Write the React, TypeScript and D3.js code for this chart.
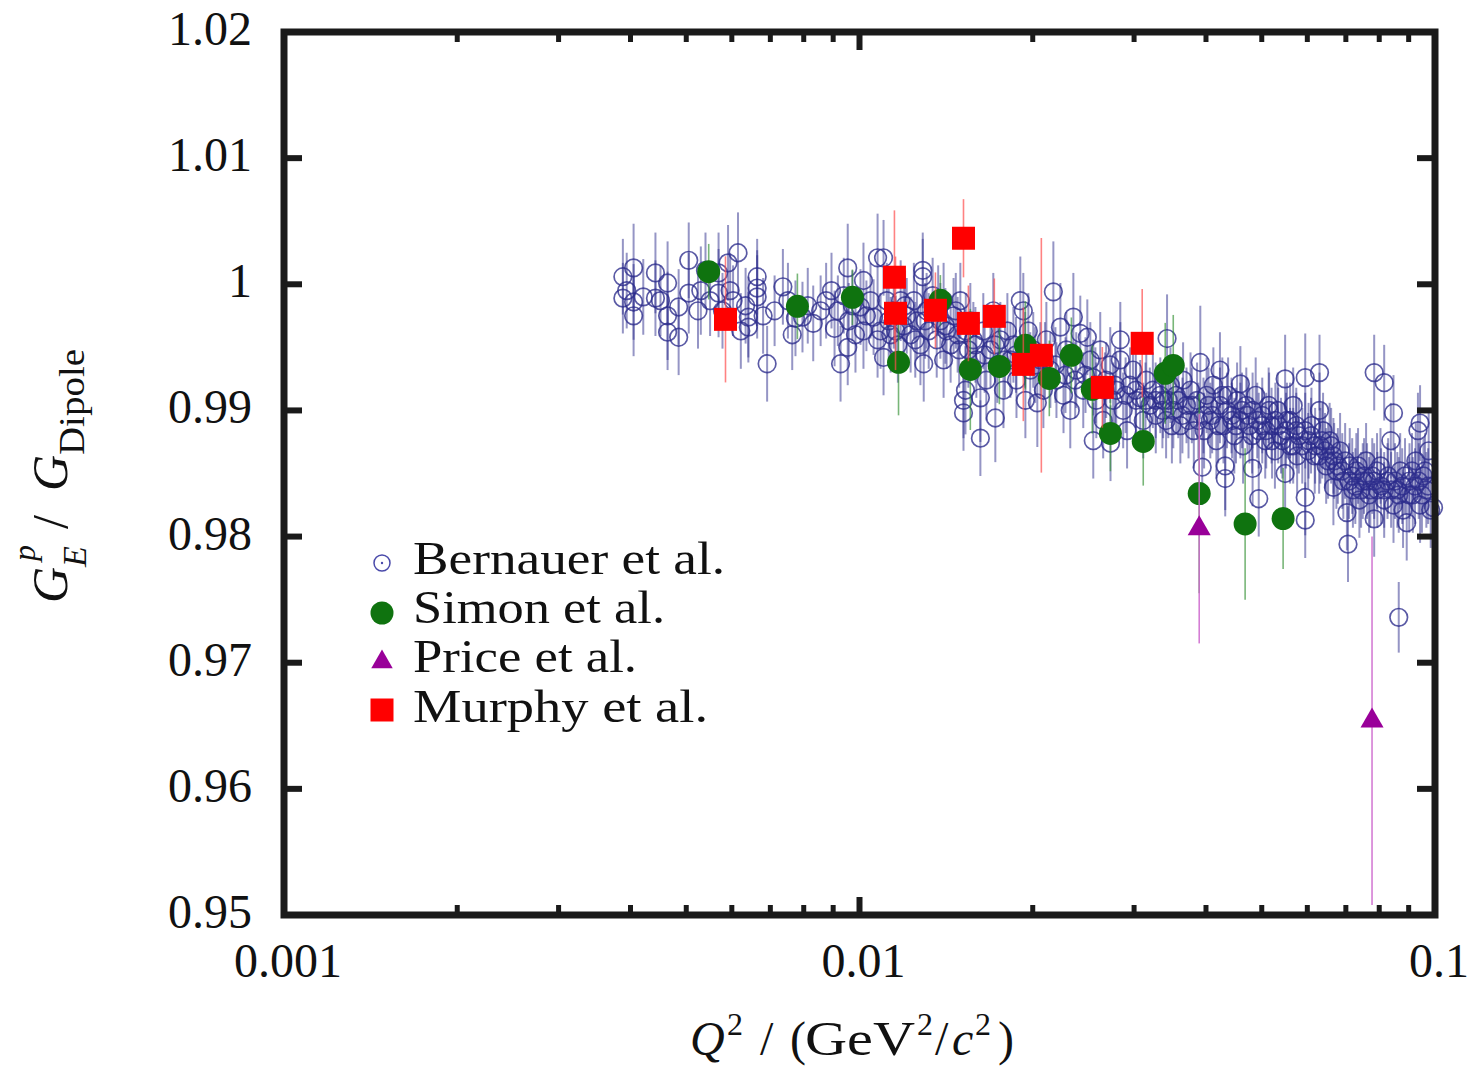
import React from 'react';
import * as d3 from 'd3';

const yTickValues = [0.95, 0.96, 0.97, 0.98, 0.99, 1.0, 1.01, 1.02];
const yTickLabels = ['0.95', '0.96', '0.97', '0.98', '0.99', '1', '1.01', '1.02'];
const xTickValues = [0.001, 0.01, 0.1];
const xTickLabels = ['0.001', '0.01', '0.1'];
const seriesNames = ['Bernauer et al.', 'Simon et al.', 'Price et al.', 'Murphy et al.'];

// [Q^2, G_E/G_Dipole, error]
const bernauer: [number, number, number][] = [
  [0.00388,1.0006,0.0030],[0.00388,0.9989,0.0028],[0.00394,0.9995,0.0030],[0.00405,1.0013,0.0035],[0.00405,0.9986,0.0030],[0.00405,0.9975,0.0032],[0.00421,0.9990,0.0030],[0.00442,1.0009,0.0032],[0.00442,0.9989,0.0030],[0.00451,0.9987,0.0028],[0.00464,1.0001,0.0033],[0.00464,0.9975,0.0035],[0.00464,0.9962,0.0030],[0.00485,0.9982,0.0030],[0.00485,0.9958,0.0030],[0.00505,1.0019,0.0030],[0.00505,0.9993,0.0032],[0.00524,0.9979,0.0030],[0.00530,0.9995,0.0035],
  [0.00540,1.0011,0.0030],[0.00550,0.9987,0.0028],[0.00569,1.0009,0.0032],[0.00569,0.9993,0.0035],[0.00578,0.9979,0.0030],[0.00591,1.0017,0.0030],[0.00596,0.9995,0.0030],[0.00603,0.9987,0.0028],[0.00615,1.0025,0.0032],[0.00622,0.9963,0.0030],[0.00634,0.9983,0.0030],[0.00641,0.9974,0.0032],[0.00641,0.9966,0.0028],[0.00664,1.0006,0.0030],[0.00664,0.9997,0.0030],[0.00664,0.9990,0.0033],[0.00680,0.9975,0.0030],[0.00691,0.9937,0.0030],[0.00712,0.9979,0.0028],[0.00736,0.9998,0.0030],[0.00751,0.9987,0.0030],[0.00764,0.9960,0.0028],[0.00774,0.9973,0.0030],
  [0.00796,0.9974,0.0028],[0.00813,0.9983,0.0030],[0.00831,0.9969,0.0030],[0.00856,0.9979,0.0028],[0.00875,0.9987,0.0030],[0.00894,0.9995,0.0030],[0.00905,0.9965,0.0030],[0.00917,0.9979,0.0028],[0.00927,0.9937,0.0030],[0.00939,0.9991,0.0030],[0.00954,1.0013,0.0035],[0.00958,0.9971,0.0030],[0.00954,0.9950,0.0030],[0.00972,0.9983,0.0028],[0.00984,0.9960,0.0030],[0.01004,0.9982,0.0030],[0.01016,0.9963,0.0030],[0.01016,1.0003,0.0030],[0.01028,0.9975,0.0028],[0.01045,0.9987,0.0030],[0.01058,0.9974,0.0030],[0.01075,1.0021,0.0035],[0.01075,0.9956,0.0030],[0.01088,0.9963,0.0030],[0.01101,0.9942,0.0030],
  [0.01101,1.0021,0.0030],[0.01115,0.9987,0.0030],[0.01124,0.9971,0.0030],[0.01133,0.9960,0.0030],[0.01147,0.9979,0.0030],[0.01156,0.9963,0.0028],[0.01166,0.9952,0.0030],[0.01179,0.9987,0.0032],[0.01193,0.9967,0.0030],[0.01200,0.9983,0.0028],[0.01208,0.9975,0.0030],[0.01227,0.9960,0.0030],[0.01243,0.9987,0.0030],[0.01250,0.9956,0.0030],[0.01258,0.9971,0.0030],[0.01276,0.9952,0.0032],[0.01288,1.0011,0.0030],[0.01288,1.0006,0.0030],[0.01293,0.9937,0.0030],[0.01300,0.9971,0.0030],[0.01308,0.9979,0.0030],[0.01319,0.9963,0.0030],[0.01340,0.9991,0.0030],[0.01362,0.9956,0.0030],[0.01370,0.9987,0.0028],[0.01382,0.9971,0.0030],[0.01400,0.9987,0.0030],[0.01400,0.9940,0.0030],[0.01410,0.9967,0.0030],[0.01417,0.9963,0.0030],[0.01440,0.9952,0.0030],[0.01457,0.9975,0.0030],[0.01470,0.9979,0.0030],[0.01481,0.9960,0.0030],[0.01490,0.9948,0.0030],[0.01497,0.9987,0.0030],[0.01516,0.9908,0.0030],[0.01516,0.9898,0.0030],[0.01528,0.9916,0.0035],[0.01546,0.9948,0.0030],
  [0.01530,0.9963,0.0030],[0.01558,0.9971,0.0030],[0.01577,0.9956,0.0030],[0.01590,0.9952,0.0030],[0.01596,0.9940,0.0030],[0.01622,0.9910,0.0035],[0.01622,0.9878,0.0030],[0.01641,0.9963,0.0030],[0.01650,0.9944,0.0030],[0.01661,0.9924,0.0032],[0.01689,0.9948,0.0030],[0.01708,0.9979,0.0030],[0.01720,0.9952,0.0030],[0.01722,0.9894,0.0035],[0.01736,0.9936,0.0030],[0.01757,0.9956,0.0030],[0.01779,0.9916,0.0030],[0.01790,0.9940,0.0030],[0.01807,0.9963,0.0030],[0.01829,0.9940,0.0030],[0.01851,0.9952,0.0030],[0.01870,0.9944,0.0030],[0.01874,0.9924,0.0030],[0.01903,0.9987,0.0035],[0.01926,0.9979,0.0030],[0.01940,0.9948,0.0030],[0.01942,0.9908,0.0030],[0.01965,0.9963,0.0030],[0.01980,0.9932,0.0030],[0.02004,0.9948,0.0030],[0.02020,0.9936,0.0030],[0.02037,0.9906,0.0035],[0.02062,0.9940,0.0030],[0.02087,0.9916,0.0030],[0.02100,0.9940,0.0030],[0.02112,0.9956,0.0030],[0.02146,0.9932,0.0030],[0.02172,0.9994,0.0040],[0.02190,0.9936,0.0030],[0.02199,0.9924,0.0030],
  [0.02234,0.9966,0.0035],[0.02262,0.9912,0.0030],[0.02280,0.9928,0.0030],[0.02288,0.9948,0.0030],[0.02324,0.9900,0.0030],[0.02353,0.9974,0.0035],[0.02370,0.9924,0.0030],[0.02380,0.9932,0.0030],[0.02419,0.9961,0.0030],[0.02448,0.9916,0.0030],[0.02470,0.9928,0.0030],[0.02488,0.9958,0.0030],[0.02518,0.9940,0.0030],[0.02548,0.9926,0.0030],[0.02548,0.9876,0.0030],[0.02570,0.9920,0.0030],[0.02579,0.9908,0.0030],[0.02620,0.9948,0.0030],[0.02651,0.9892,0.0030],[0.02670,0.9916,0.0030],[0.02683,0.9924,0.0030],[0.02727,0.9936,0.0030],[0.02730,0.9874,0.0030],[0.02759,0.9908,0.0030],[0.02780,0.9920,0.0030],[0.02793,0.9916,0.0030],[0.02839,0.9956,0.0030],[0.02839,0.9940,0.0030],[0.02872,0.9900,0.0030],[0.02900,0.9912,0.0030],[0.02917,0.9884,0.0030],[0.02952,0.9920,0.0030],[0.02987,0.9932,0.0030],[0.03020,0.9916,0.0030],[0.03024,0.9908,0.0030],[0.03075,0.9910,0.0030],[0.03112,0.9892,0.0030],[0.03140,0.9908,0.0030],[0.03150,0.9924,0.0030],[0.03195,0.9904,0.0030],[0.03234,0.9916,0.0030],[0.03270,0.9908,0.0030],[0.03272,0.9896,0.0030],[0.03332,0.9912,0.0030],[0.03423,0.9957,0.0035],
  [0.0336,0.9900,0.003],[0.0337,0.9908,0.003],[0.0341,0.9892,0.003],[0.0344,0.9908,0.003],[0.0347,0.9920,0.003],[0.0349,0.9888,0.003],[0.0351,0.9900,0.003],[0.0355,0.9912,0.003],[0.0358,0.9908,0.003],[0.0361,0.9888,0.003],[0.0364,0.9896,0.003],[0.0365,0.9924,0.003],[0.0370,0.9904,0.003],[0.0373,0.9892,0.003],[0.0376,0.9916,0.003],[0.0378,0.9904,0.003],[0.0381,0.9884,0.003],[0.0386,0.9908,0.003],[0.0388,0.9892,0.003],[0.0391,0.9938,0.0045],[0.0394,0.9855,0.003],[0.0396,0.9896,0.003],[0.0397,0.9884,0.003],[0.0401,0.9912,0.003],[0.0404,0.9904,0.003],[0.0407,0.9892,0.003],[0.0410,0.9896,0.003],[0.0412,0.9920,0.003],[0.0417,0.9876,0.003],[0.0420,0.9888,0.003],[0.0423,0.9932,0.003],[0.0423,0.9904,0.003],[0.0427,0.9912,0.003],[0.0429,0.9888,0.003],[0.0432,0.9856,0.0035],[0.0432,0.9846,0.003],[0.0435,0.9900,0.003],[0.0437,0.9912,0.003],[0.0443,0.9896,0.003],[0.0444,0.9892,0.003],[0.0448,0.9880,0.003],[0.0451,0.9888,0.003],[0.0453,0.9908,0.003],[0.0459,0.9921,0.003],[0.0459,0.9892,0.003],[0.0462,0.9900,0.003],[0.0464,0.9872,0.003],[0.0470,0.9904,0.003],[0.0472,0.9896,0.003],[0.0476,0.9888,0.003],[0.0481,0.9880,0.003],[0.0482,0.9854,0.003],[0.0482,0.9900,0.003],[0.0488,0.9912,0.003],[0.0491,0.9892,0.003],[0.0494,0.9830,0.003],[0.0494,0.9884,0.003],
  [0.0501,0.9896,0.003],[0.0501,0.9888,0.003],[0.0507,0.9876,0.003],[0.0509,0.9884,0.003],[0.0514,0.9904,0.003],[0.0515,0.9900,0.003],[0.0520,0.9888,0.003],[0.0521,0.9876,0.003],[0.0527,0.9868,0.003],[0.0528,0.9892,0.003],[0.0533,0.9900,0.003],[0.0534,0.9888,0.003],[0.0540,0.9880,0.003],[0.0543,0.9876,0.003],[0.0549,0.9925,0.0035],[0.0549,0.9850,0.003],[0.0551,0.9884,0.003],[0.0553,0.9892,0.003],[0.0560,0.9872,0.003],[0.0560,0.9892,0.003],[0.0567,0.9904,0.003],[0.0567,0.9872,0.003],[0.0574,0.9884,0.003],[0.0574,0.9888,0.003],[0.0576,0.9864,0.003],[0.0580,0.9880,0.003],[0.0588,0.9872,0.003],[0.0595,0.9926,0.0035],[0.0595,0.9831,0.003],[0.0595,0.9813,0.003],[0.0595,0.9884,0.003],[0.0602,0.9868,0.003],[0.0603,0.9876,0.003],[0.0609,0.9880,0.003],[0.0610,0.9888,0.003],[0.0618,0.9864,0.003],[0.0619,0.9872,0.003],[0.0629,0.9864,0.003],[0.0630,0.9930,0.003],[0.0630,0.9900,0.003],[0.0632,0.9872,0.003],[0.0637,0.9876,0.003],[0.0639,0.9884,0.003],[0.0644,0.9868,0.003],[0.0647,0.9856,0.003],[0.0652,0.9860,0.003],[0.0656,0.9876,0.003],[0.0660,0.9872,0.003],[0.0666,0.9839,0.003],[0.0666,0.9864,0.003],[0.0668,0.9860,0.003],[0.0674,0.9852,0.003],[0.0678,0.9856,0.003],
  [0.0684,0.9868,0.003],[0.0690,0.9852,0.003],[0.0693,0.9844,0.003],[0.0698,0.9860,0.003],[0.0703,0.9819,0.003],[0.0706,0.9794,0.003],[0.0709,0.9844,0.003],[0.0711,0.9856,0.003],[0.0718,0.9848,0.003],[0.0720,0.9837,0.003],[0.0727,0.9840,0.003],[0.0730,0.9852,0.003],[0.0735,0.9856,0.003],[0.0739,0.9829,0.003],[0.0744,0.9837,0.003],[0.0749,0.9844,0.003],[0.0753,0.9848,0.003],[0.0759,0.9860,0.003],[0.0762,0.9844,0.003],[0.0768,0.9833,0.003],[0.0772,0.9837,0.003],[0.0778,0.9848,0.003],[0.0784,0.9930,0.003],[0.0784,0.9814,0.003],[0.0784,0.9844,0.003],[0.0793,0.9852,0.003],[0.0794,0.9837,0.003],[0.0804,0.9856,0.003],[0.0806,0.9840,0.003],[0.0816,0.9922,0.003],[0.0816,0.9829,0.003],[0.0816,0.9837,0.003],[0.0827,0.9844,0.003],[0.0829,0.9848,0.003],[0.0838,0.9876,0.003],[0.0839,0.9837,0.003],[0.0847,0.9898,0.003],[0.0847,0.9825,0.003],[0.0852,0.9844,0.003],[0.0860,0.9837,0.003],[0.0865,0.9736,0.0028],[0.0865,0.9833,0.003],[0.0870,0.9852,0.003],[0.0877,0.9840,0.003],[0.0880,0.9821,0.003],[0.0887,0.9848,0.003],[0.0893,0.9811,0.003],[0.0902,0.9833,0.003],[0.0903,0.9844,0.003],[0.0912,0.9852,0.003],[0.0915,0.9833,0.003],[0.0923,0.9840,0.003],[0.0926,0.9860,0.003],[0.0934,0.9884,0.003],[0.0937,0.9844,0.003],[0.0942,0.9890,0.003],[0.0942,0.9825,0.003],[0.0949,0.9833,0.003],[0.0955,0.9848,0.003],[0.0961,0.9852,0.003],[0.0966,0.9837,0.003],[0.0973,0.9840,0.003],[0.0975,0.9868,0.003],[0.0983,0.9821,0.003],[0.0994,0.9823,0.003],
];

const simon: [number, number, number][] = [
  [0.00547,1.0010,0.0022],[0.00780,0.99825,0.0026],[0.00972,0.99897,0.0022],[0.01169,0.99381,0.0042],[0.01382,0.99873,0.002],[0.01558,0.99325,0.0048],[0.01750,0.99349,0.003],[0.01942,0.99516,0.0035],[0.02137,0.99254,0.003],[0.02334,0.99437,0.003],[0.02538,0.99167,0.0035],[0.02729,0.98818,0.003],[0.03112,0.98754,0.0035],[0.03398,0.99294,0.004],[0.03509,0.99357,0.004],[0.03893,0.98341,0.0079],[0.04678,0.98100,0.006],[0.05446,0.98143,0.004],
];

const price: [number, number, number][] = [
  [0.03893,0.98063,0.0091],[0.07773,0.96540,0.0146],
];

const murphy: [number, number, number][] = [
  [0.00585,0.99722,0.005],[0.01150,1.00056,0.0053],[0.01155,0.99770,0.0045],[0.01355,0.99794,0.003],[0.01516,1.00365,0.0031],[0.01546,0.99690,0.003],[0.01715,0.99746,0.003],[0.01926,0.99365,0.0045],[0.02070,0.99437,0.0093],[0.02642,0.99183,0.0032],[0.03099,0.99532,0.0043],
];

const FONT = "'Liberation Serif', 'Times New Roman', serif";

export default function App() {
  const W = 1473, H = 1069;
  const L = 284, R = 1435, T = 32, B = 915;
  const x = d3.scaleLog().domain([0.001, 0.1]).range([L, R]);
  const y = d3.scaleLinear().domain([0.95, 1.02]).range([B, T]);

  const minorX = x.ticks().filter((t) => !xTickValues.some((m) => Math.abs(m - t) / m < 1e-6));

  const tri = d3.symbol().type(d3.symbolTriangle).size(230)() as string;
  const sq = d3.symbol().type(d3.symbolSquare).size(529)() as string;
  const triL = d3.symbol().type(d3.symbolTriangle).size(200)() as string;

  const blue = '#2c2c8c';
  const green = '#0f730f';
  const purple = '#990099';
  const red = '#ff0000';

  const bars = (data: [number, number, number][], color: string, op: number, w: number, key: string) =>
    data.map((d, i) => (
      <line key={key + i} x1={x(d[0])} x2={x(d[0])} y1={y(d[1] - d[2])} y2={y(d[1] + d[2])}
        stroke={color} strokeOpacity={op} strokeWidth={w} />
    ));

  const legendX = 382;
  const legendTextX = 413;
  const legendRows = [563, 613, 662, 710];
  const legendBaselines = [574, 623, 672, 722];
  const legendWidths = [312, 252, 224, 295];

  return (
    <svg width={W} height={H} style={{ position: 'absolute', left: 0, top: 0, background: '#fff' }}
      fontFamily={FONT}>
      <rect x={0} y={0} width={W} height={H} fill="#fff" />

      {/* Bernauer */}
      <g>
        {bars(bernauer, blue, 0.5, 2, 'bb')}
        {bernauer.map((d, i) => (
          <circle key={'bc' + i} cx={x(d[0])} cy={y(d[1])} r={8.8} fill="none"
            stroke={blue} strokeOpacity={0.78} strokeWidth={1.7} />
        ))}
      </g>

      {/* Simon */}
      <g>
        {bars(simon, '#2f8f2f', 0.65, 1.6, 'sb')}
        {simon.map((d, i) => (
          <circle key={'sc' + i} cx={x(d[0])} cy={y(d[1])} r={11.5} fill={green} />
        ))}
      </g>

      {/* Price */}
      <g>
        {bars(price, '#cc66cc', 0.85, 1.6, 'pb')}
        {price.map((d, i) => (
          <path key={'pt' + i} d={tri} transform={`translate(${x(d[0])},${y(d[1])})`} fill={purple} />
        ))}
      </g>

      {/* Murphy */}
      <g>
        {bars(murphy, '#ff4d4d', 0.7, 1.6, 'mb')}
        {murphy.map((d, i) => (
          <path key={'ms' + i} d={sq} transform={`translate(${x(d[0])},${y(d[1])})`} fill={red} />
        ))}
      </g>

      {/* Frame and ticks */}
      <g stroke="#1a1a1a" strokeLinecap="butt">
        {yTickValues.map((v, i) => (
          <g key={'yt' + i}>
            <line x1={L} x2={L + 18} y1={y(v)} y2={y(v)} strokeWidth={6} />
            <line x1={R} x2={R - 18} y1={y(v)} y2={y(v)} strokeWidth={6} />
          </g>
        ))}
        {xTickValues.map((v, i) => (
          <g key={'xt' + i}>
            <line x1={x(v)} x2={x(v)} y1={B} y2={B - 18} strokeWidth={6} />
            <line x1={x(v)} x2={x(v)} y1={T} y2={T + 18} strokeWidth={6} />
          </g>
        ))}
        {minorX.map((v, i) => (
          <g key={'mx' + i}>
            <line x1={x(v)} x2={x(v)} y1={B} y2={B - 10} strokeWidth={5} />
            <line x1={x(v)} x2={x(v)} y1={T} y2={T + 10} strokeWidth={5} />
          </g>
        ))}
        <rect x={L} y={T} width={R - L} height={B - T} fill="none" strokeWidth={7} />
      </g>

      {/* Tick labels */}
      <g fontSize={48} fill="#111">
        {yTickValues.map((v, i) => (
          <text key={'yl' + i} x={252} y={y(v) + 13} textAnchor="end">{yTickLabels[i]}</text>
        ))}
        {xTickValues.map((v, i) => (
          <text key={'xl' + i} x={x(v) + 4} y={977} textAnchor="middle">{xTickLabels[i]}</text>
        ))}
      </g>

      {/* Legend */}
      <g>
        <circle cx={legendX} cy={legendRows[0]} r={8} fill="none" stroke="#4a4aaa" strokeWidth={1.5} />
        <circle cx={legendX} cy={legendRows[0]} r={1.2} fill="#4a4aaa" />
        <circle cx={legendX} cy={legendRows[1]} r={11.5} fill={green} />
        <path d={triL} transform={`translate(${legendX},${legendRows[2]})`} fill={purple} />
        <path d={sq} transform={`translate(${legendX},${legendRows[3]})`} fill={red} />
        {seriesNames.map((s, i) => (
          <text key={'lg' + i} x={legendTextX} y={legendBaselines[i]} fontSize={47} fill="#111"
            textLength={legendWidths[i]} lengthAdjust="spacingAndGlyphs">{s}</text>
        ))}
      </g>

      {/* X axis title */}
      <text y={1055} fontSize={48} fill="#111">
        <tspan x={690} y={1055} fontStyle="italic">Q</tspan>
        <tspan x={727} y={1035} fontSize={32}>2</tspan>
        <tspan x={760} y={1055}>/</tspan>
        <tspan x={790} y={1055}>(</tspan>
        <tspan x={805} y={1055} textLength={110} lengthAdjust="spacingAndGlyphs">GeV</tspan>
        <tspan x={917} y={1035} fontSize={32}>2</tspan>
        <tspan x={935} y={1055}>/</tspan>
        <tspan x={952} y={1055} fontStyle="italic">c</tspan>
        <tspan x={975} y={1035} fontSize={32}>2</tspan>
        <tspan x={998} y={1055}>)</tspan>
      </text>

      {/* Y axis title */}
      <g transform="translate(67,475) rotate(-90)">
        <text y={0} fontSize={50} fill="#111">
          <tspan x={-128} y={0} fontStyle="italic">G</tspan>
          <tspan x={-92} y={19} fontSize={34} fontStyle="italic">E</tspan>
          <tspan x={-86} y={-32} fontSize={32} fontStyle="italic">p</tspan>
          <tspan x={-54} y={0}>/</tspan>
          <tspan x={-16} y={0} fontStyle="italic">G</tspan>
          <tspan x={20} y={17} fontSize={35} textLength={106} lengthAdjust="spacingAndGlyphs">Dipole</tspan>
        </text>
      </g>
    </svg>
  );
}
